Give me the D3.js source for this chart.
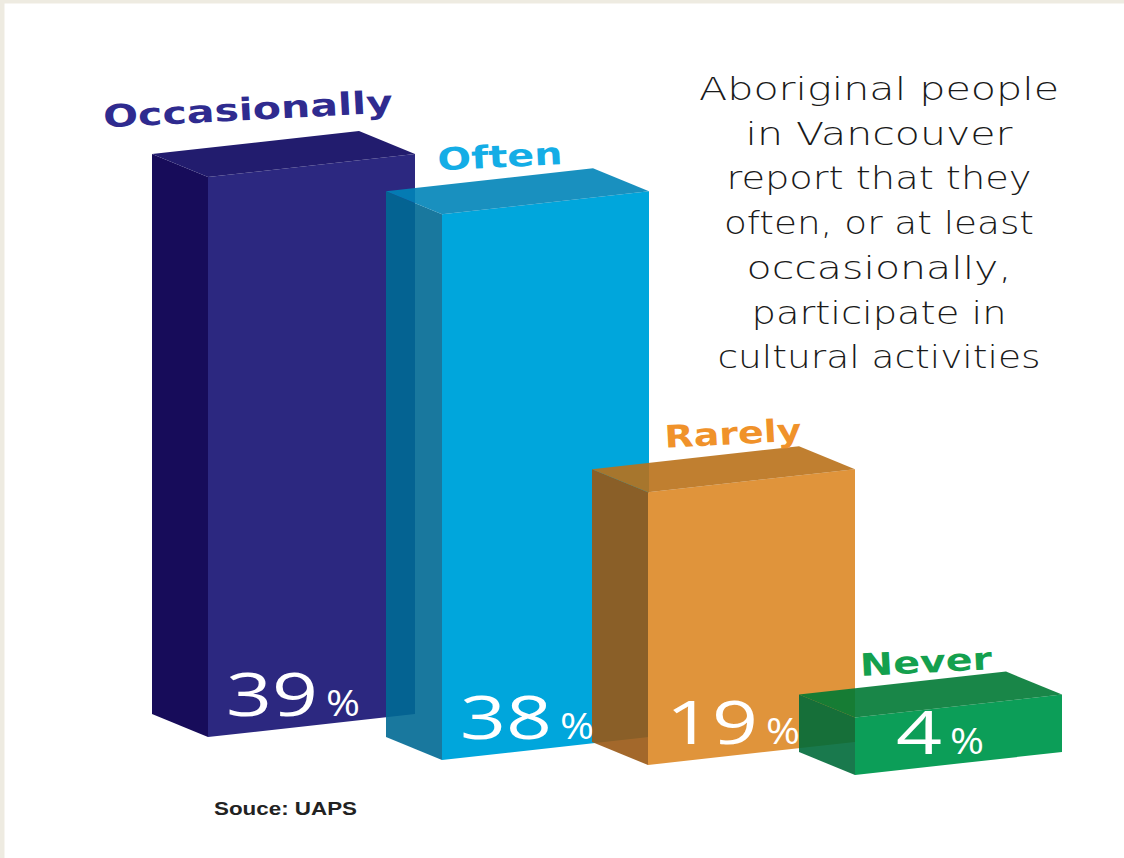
<!DOCTYPE html>
<html><head><meta charset="utf-8">
<script src="https://cdn.jsdelivr.net/npm/d3@7"></script>
<style>html,body{margin:0;padding:0;background:#fff;} svg{display:block}</style>
</head><body>
<svg id="chart" width="1124" height="858"></svg>
<script>
// ---- data ----
const categories = ["Occasionally", "Often", "Rarely", "Never"];
const values = [39, 38, 19, 4];
const valueSuffix = "%";
const titleLines = ["Aboriginal people", "in Vancouver", "report that they", "often, or at least", "occasionally,", "participate in", "cultural activities"];
const sourceText = "Souce: UAPS";

// ---- styles / layout ----
const labelColors = ["#2f2b8f", "#14ade6", "#f0922a", "#14a04e"];
const frontColors = ["#2c2880", "#00a6dc", "#e0943b", "#0c9e58"];
const sideColors  = ["#170c5a", "#006994", "#995814", "#006a3a"];
const topColors   = ["#221c6e", "#0084b8", "#b97119", "#007934"];
const shadeOpacity = [1, 0.9, 0.9, 0.9];
const labelWidths = [290, 125, 137, 132];
const labelNudgeX = [-35, -17, 10, -4];
const labelNudgeY = [-34, -24, -25, -22];
const titleWidths = [360, 267, 305, 310, 265, 255, 323];

const W = 1124, H = 858;
const svg = d3.select("#chart");
svg.append("rect").attr("width", W).attr("height", H).attr("fill", "#eeebe1");
svg.append("rect").attr("x", 4.5).attr("y", 3.5).attr("width", W).attr("height", H).attr("fill", "#ffffff");

// scales
const xFront = d3.scaleOrdinal().domain(categories).range([208, 442, 648, 855]);
const yGround = d3.scaleOrdinal().domain(categories).range([737, 760, 765, 775]);
const hScale = d3.scaleLinear().domain([0, 39]).range([0, 560]);
const faceW = [207, -23];   // front width vector
const depth = [-56, -23];   // front -> back vector

function poly(pts) {
  const p = d3.path();
  p.moveTo(pts[0][0], pts[0][1]);
  for (let i = 1; i < pts.length; i++) p.lineTo(pts[i][0], pts[i][1]);
  p.closePath();
  return p.toString();
}

const data = categories.map((c, i) => ({ cat: c, value: values[i], i }));

const bars = svg.append("g").selectAll("g.bar").data(data).join("g").attr("class", "bar");

bars.each(function (d) {
  const g = d3.select(this);
  const fx = xFront(d.cat), fy = yGround(d.cat), h = hScale(d.value);
  const fl_b = [fx, fy], fl_t = [fx, fy - h];
  const fr_b = [fx + faceW[0], fy + faceW[1]], fr_t = [fx + faceW[0], fy + faceW[1] - h];
  const bl_b = [fx + depth[0], fy + depth[1]], bl_t = [fx + depth[0], fy + depth[1] - h];
  const br_t = [fr_t[0] + depth[0], fr_t[1] + depth[1]];
  g.append("path").attr("d", poly([fl_b, fl_t, bl_t, bl_b])).attr("fill", sideColors[d.i]).attr("fill-opacity", shadeOpacity[d.i]);
  g.append("path").attr("d", poly([fl_b, fr_b, fr_t, fl_t])).attr("fill", frontColors[d.i]);
  g.append("path").attr("d", poly([fl_t, fr_t, br_t, bl_t])).attr("fill", topColors[d.i]).attr("fill-opacity", shadeOpacity[d.i]);
});

// category labels
data.forEach(d => {
  const fx = xFront(d.cat), fy = yGround(d.cat), h = hScale(d.value);
  const cx = fx + faceW[0] / 2 + depth[0] / 2 + labelNudgeX[d.i];
  const cy = fy - h + depth[1] + labelNudgeY[d.i];
  svg.append("text")
    .attr("x", cx).attr("y", cy)
    .attr("text-anchor", "middle")
    .attr("transform", `rotate(-3,${cx},${cy})`)
    .attr("font-family", "'DejaVu Sans', sans-serif")
    .attr("font-weight", "bold")
    .attr("font-size", 31)
    .attr("textLength", labelWidths[d.i])
    .attr("lengthAdjust", "spacingAndGlyphs")
    .attr("fill", labelColors[d.i])
    .text(d.cat);
});

// value labels
const digitW = 46, gap = 8, pctW = 34;
data.forEach(d => {
  const fx = xFront(d.cat), fy = yGround(d.cat);
  const s = String(d.value);
  const total = s.length * digitW + gap + pctW;
  const x0 = fx + 85 - total / 2;
  const base = fy - 21;
  svg.append("text")
    .attr("x", x0).attr("y", base)
    .attr("font-family", "'Open Sans', sans-serif")
    .attr("font-weight", 400)
    .attr("font-size", 60)
    .attr("textLength", s.length * digitW)
    .attr("lengthAdjust", "spacingAndGlyphs")
    .attr("fill", "#ffffff")
    .text(s);
  svg.append("text")
    .attr("x", x0 + s.length * digitW + gap).attr("y", base)
    .attr("font-family", "'Open Sans', sans-serif")
    .attr("font-weight", 400)
    .attr("font-size", 36)
    .attr("textLength", pctW)
    .attr("lengthAdjust", "spacingAndGlyphs")
    .attr("fill", "#ffffff")
    .text(valueSuffix);
});

// title
const title = svg.append("g");
titleLines.forEach((t, i) => {
  title.append("text")
    .attr("x", 879).attr("y", 100 + i * 44.7)
    .attr("text-anchor", "middle")
    .attr("font-family", "'DejaVu Sans', sans-serif")
    .attr("font-weight", 300)
    .attr("font-size", 32)
    .attr("textLength", titleWidths[i])
    .attr("lengthAdjust", "spacingAndGlyphs")
    .attr("fill", "#1a1a1a")
    .text(t);
});

// source
svg.append("text")
  .attr("x", 214).attr("y", 815)
  .attr("font-family", "'Liberation Sans Narrow', 'Liberation Sans', sans-serif")
  .attr("font-weight", "bold")
  .attr("font-size", 19)
  .attr("textLength", 143)
  .attr("lengthAdjust", "spacingAndGlyphs")
  .attr("fill", "#222")
  .text(sourceText);
</script>
</body></html>
